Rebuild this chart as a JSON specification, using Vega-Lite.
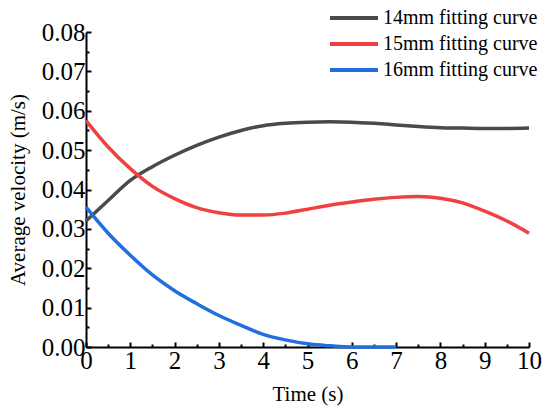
{
  "$schema": "https://vega.github.io/schema/vega-lite/v6.json",
  "autosize": {"type": "none"},
  "padding": {"left": 86, "top": 32, "right": 21, "bottom": 73},
  "width": 443,
  "height": 315,
  "background": "white",
  "config": {
    "view": {"stroke": null},
    "font": "Liberation Serif",
    "axis": {
      "grid": false,
      "domainColor": "black",
      "domainWidth": 2,
      "tickColor": "black",
      "tickWidth": 2,
      "labelFont": "Liberation Serif",
      "labelFontSize": 25,
      "labelColor": "black",
      "titleFont": "Liberation Serif",
      "titleFontSize": 21,
      "titleFontWeight": "normal",
      "titleColor": "black"
    }
  },
  "data": {
    "values": [
      {"t": 0, "v": 0.0320, "s": "14mm fitting curve"},
      {"t": 0.5, "v": 0.0372, "s": "14mm fitting curve"},
      {"t": 1, "v": 0.0423, "s": "14mm fitting curve"},
      {"t": 1.5, "v": 0.0458, "s": "14mm fitting curve"},
      {"t": 2, "v": 0.0487, "s": "14mm fitting curve"},
      {"t": 2.5, "v": 0.0512, "s": "14mm fitting curve"},
      {"t": 3, "v": 0.0533, "s": "14mm fitting curve"},
      {"t": 3.5, "v": 0.0550, "s": "14mm fitting curve"},
      {"t": 4, "v": 0.0562, "s": "14mm fitting curve"},
      {"t": 4.5, "v": 0.0568, "s": "14mm fitting curve"},
      {"t": 5, "v": 0.0571, "s": "14mm fitting curve"},
      {"t": 5.5, "v": 0.0572, "s": "14mm fitting curve"},
      {"t": 6, "v": 0.0571, "s": "14mm fitting curve"},
      {"t": 6.5, "v": 0.0568, "s": "14mm fitting curve"},
      {"t": 7, "v": 0.0564, "s": "14mm fitting curve"},
      {"t": 7.5, "v": 0.0560, "s": "14mm fitting curve"},
      {"t": 8, "v": 0.0557, "s": "14mm fitting curve"},
      {"t": 8.5, "v": 0.0556, "s": "14mm fitting curve"},
      {"t": 9, "v": 0.0555, "s": "14mm fitting curve"},
      {"t": 9.5, "v": 0.0555, "s": "14mm fitting curve"},
      {"t": 10, "v": 0.0556, "s": "14mm fitting curve"},
      {"t": 0, "v": 0.0575, "s": "15mm fitting curve"},
      {"t": 0.5, "v": 0.0508, "s": "15mm fitting curve"},
      {"t": 1, "v": 0.0453, "s": "15mm fitting curve"},
      {"t": 1.5, "v": 0.0408, "s": "15mm fitting curve"},
      {"t": 2, "v": 0.0377, "s": "15mm fitting curve"},
      {"t": 2.5, "v": 0.0354, "s": "15mm fitting curve"},
      {"t": 3, "v": 0.0341, "s": "15mm fitting curve"},
      {"t": 3.5, "v": 0.0335, "s": "15mm fitting curve"},
      {"t": 4, "v": 0.0335, "s": "15mm fitting curve"},
      {"t": 4.5, "v": 0.0340, "s": "15mm fitting curve"},
      {"t": 5, "v": 0.0350, "s": "15mm fitting curve"},
      {"t": 5.5, "v": 0.0360, "s": "15mm fitting curve"},
      {"t": 6, "v": 0.0368, "s": "15mm fitting curve"},
      {"t": 6.5, "v": 0.0375, "s": "15mm fitting curve"},
      {"t": 7, "v": 0.0380, "s": "15mm fitting curve"},
      {"t": 7.5, "v": 0.0382, "s": "15mm fitting curve"},
      {"t": 8, "v": 0.0378, "s": "15mm fitting curve"},
      {"t": 8.5, "v": 0.0366, "s": "15mm fitting curve"},
      {"t": 9, "v": 0.0345, "s": "15mm fitting curve"},
      {"t": 9.5, "v": 0.0320, "s": "15mm fitting curve"},
      {"t": 10, "v": 0.0289, "s": "15mm fitting curve"},
      {"t": 0, "v": 0.0355, "s": "16mm fitting curve"},
      {"t": 0.5, "v": 0.0289, "s": "16mm fitting curve"},
      {"t": 1, "v": 0.0233, "s": "16mm fitting curve"},
      {"t": 1.5, "v": 0.0183, "s": "16mm fitting curve"},
      {"t": 2, "v": 0.0143, "s": "16mm fitting curve"},
      {"t": 2.5, "v": 0.0110, "s": "16mm fitting curve"},
      {"t": 3, "v": 0.0080, "s": "16mm fitting curve"},
      {"t": 3.5, "v": 0.0055, "s": "16mm fitting curve"},
      {"t": 4, "v": 0.0032, "s": "16mm fitting curve"},
      {"t": 4.5, "v": 0.0018, "s": "16mm fitting curve"},
      {"t": 5, "v": 0.0008, "s": "16mm fitting curve"},
      {"t": 5.5, "v": 0.0003, "s": "16mm fitting curve"},
      {"t": 6, "v": 0.0000, "s": "16mm fitting curve"},
      {"t": 6.5, "v": 0.0000, "s": "16mm fitting curve"},
      {"t": 7, "v": 0.0000, "s": "16mm fitting curve"}
    ]
  },
  "mark": {"type": "line", "strokeWidth": 3.5, "interpolate": "monotone", "clip": false},
  "encoding": {
    "x": {
      "field": "t",
      "type": "quantitative",
      "title": "Time (s)",
      "scale": {"domain": [0, 10], "nice": false},
      "axis": {
        "values": [0, 0.5, 1, 1.5, 2, 2.5, 3, 3.5, 4, 4.5, 5, 5.5, 6, 6.5, 7, 7.5, 8, 8.5, 9, 9.5, 10],
        "tickSize": {"condition": {"test": "datum.value % 1 === 0", "value": -5}, "value": -3},
        "labelExpr": "datum.value % 1 === 0 ? format(datum.value, 'd') : ''",
        "labelPadding": 6,
        "labelFlush": false,
        "labelOverlap": false,
        "titlePadding": 8
      }
    },
    "y": {
      "field": "v",
      "type": "quantitative",
      "title": "Average velocity (m/s)",
      "scale": {"domain": [0, 0.08], "nice": false},
      "axis": {
        "values": [0, 0.005, 0.01, 0.015, 0.02, 0.025, 0.03, 0.035, 0.04, 0.045, 0.05, 0.055, 0.06, 0.065, 0.07, 0.075, 0.08],
        "tickSize": {"condition": {"test": "round(datum.value * 200) % 2 === 0", "value": -5}, "value": -3},
        "labelExpr": "round(datum.value * 200) % 2 === 0 ? format(datum.value, '.2f') : ''",
        "labelPadding": 6,
        "labelFlush": false,
        "labelOverlap": false,
        "titlePadding": 13
      }
    },
    "color": {
      "field": "s",
      "type": "nominal",
      "scale": {
        "domain": ["14mm fitting curve", "15mm fitting curve", "16mm fitting curve"],
        "range": ["#4a4a4a", "#f04040", "#1f6fe0"]
      },
      "legend": {
        "orient": "none",
        "legendX": 242,
        "legendY": -28,
        "title": null,
        "symbolType": "M-1,0H3",
        "symbolSize": 576,
        "symbolStrokeWidth": 4,
        "labelFont": "Liberation Serif",
        "labelFontSize": 20,
        "labelColor": "black",
        "labelOffset": 27,
        "rowPadding": 2,
        "padding": 0
      }
    }
  }
}
